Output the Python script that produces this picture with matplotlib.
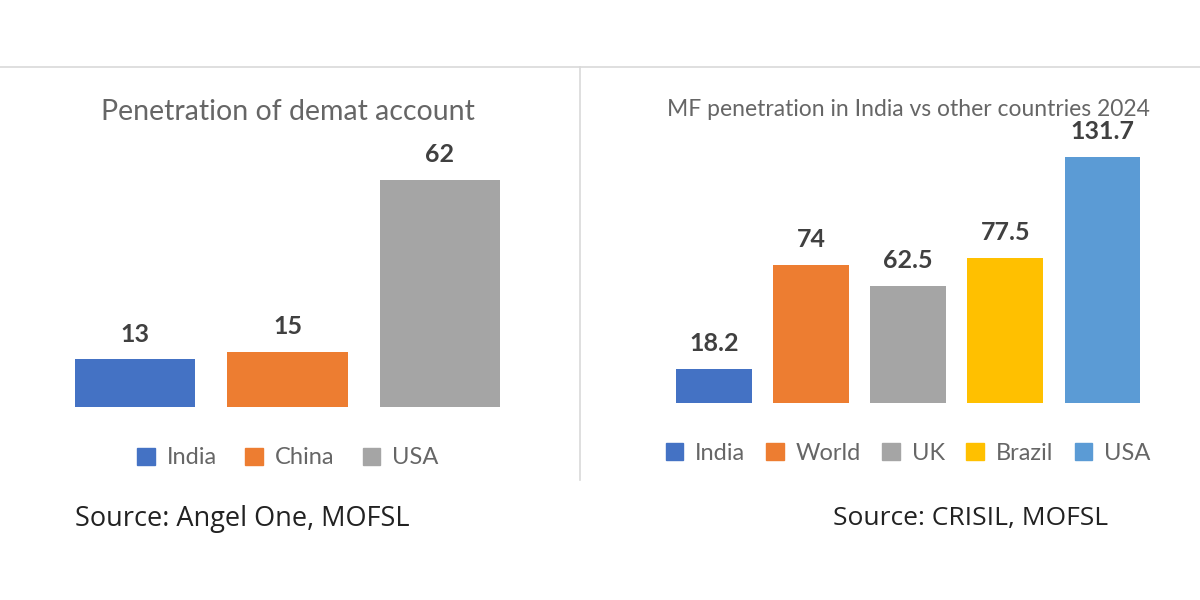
import matplotlib
matplotlib.use("Agg")
import matplotlib.pyplot as plt
from matplotlib.lines import Line2D
from matplotlib.patches import Patch

# left panel: demat penetration
demat_countries = ["India", "China", "USA"]
demat_values = [13, 15, 62]
demat_colors = ["#4472C4", "#ED7D31", "#A5A5A5"]

# right panel: MF penetration 2024
mf_countries = ["India", "World", "UK", "Brazil", "USA"]
mf_values = [18.2, 74, 62.5, 77.5, 131.7]
mf_labels = ["18.2", "74", "62.5", "77.5", "131.7"]
mf_colors = ["#4472C4", "#ED7D31", "#A5A5A5", "#FFC000", "#5B9BD5"]

W, H = 1200, 600
fig = plt.figure(figsize=(12, 6), dpi=100)
fig.patch.set_facecolor("white")


def px_axes(x0, y_bottom, w, h):
    return fig.add_axes([x0 / W, (H - y_bottom) / H, w / W, h / H])


def clean(ax):
    for s in ax.spines.values():
        s.set_visible(False)
    ax.set_xticks([])
    ax.set_yticks([])
    ax.patch.set_alpha(0)


TXT = "#666666"
LAB = "#404040"

# frame lines
fig.add_artist(Line2D([0, 1], [1 - 67 / H] * 2, color="#d9d9d9", lw=1.2))
fig.add_artist(Line2D([580 / W] * 2, [1 - 67 / H, 1 - 480 / H], color="#d9d9d9", lw=1.2))

# left chart
ax1 = px_axes(58.75, 407, 457.5, 70 * 3.66)
clean(ax1)
b1 = ax1.bar(range(3), demat_values, width=0.79, color=demat_colors)
ax1.set_xlim(-0.5, 2.5)
ax1.set_ylim(0, 70)
ax1.bar_label(b1, labels=[str(v) for v in demat_values], padding=10,
              fontsize=18, color=LAB, fontfamily="Lato", fontweight="bold")
fig.text(288 / W, 1 - 112 / H, "Penetration of demat account", ha="center", va="center",
         fontsize=20.5, color=TXT, fontfamily="Lato")
h1 = [Patch(color=c) for c in demat_colors]
fig.legend(h1, demat_countries, loc="center", bbox_to_anchor=(288 / W, 1 - 458 / H),
           ncol=3, frameon=False, handlelength=0.75, handleheight=0.75, handletextpad=0.5,
           columnspacing=1.2, prop={"family": "Lato", "size": 17}, labelcolor=TXT)
fig.text(75 / W, 1 - 519 / H, "Source: Angel One, MOFSL", ha="left", va="center",
         fontsize=19.5, color="#222222", fontfamily="Open Sans")

# right chart
ax2 = px_axes(665.5, 403, 485.5, 145 * 1.868)
clean(ax2)
b2 = ax2.bar(range(5), mf_values, width=0.78, color=mf_colors)
ax2.set_xlim(-0.5, 4.5)
ax2.set_ylim(0, 145)
ax2.bar_label(b2, labels=mf_labels, padding=10,
              fontsize=18, color=LAB, fontfamily="Lato", fontweight="bold")
fig.text(908 / W, 1 - 110 / H, "MF penetration in India vs other countries 2024", ha="center",
         va="center", fontsize=16.5, color=TXT, fontfamily="Lato")
h2 = [Patch(color=c) for c in mf_colors]
fig.legend(h2, mf_countries, loc="center", bbox_to_anchor=(908 / W, 1 - 453 / H),
           ncol=5, frameon=False, handlelength=0.75, handleheight=0.75, handletextpad=0.5,
           columnspacing=0.9, prop={"family": "Lato", "size": 17}, labelcolor=TXT)
fig.text(1108 / W, 1 - 519 / H, "Source: CRISIL, MOFSL", ha="right", va="center",
         fontsize=19, color="#222222", fontfamily="Open Sans")

fig.savefig("out.png", dpi=100)
